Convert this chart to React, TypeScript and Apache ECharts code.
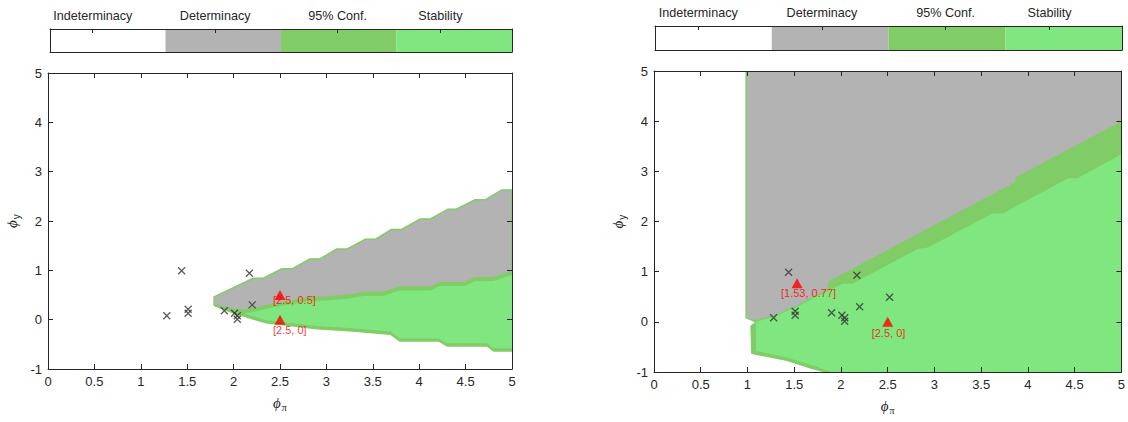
import React, { useEffect, useRef } from 'react';
import * as echarts from 'echarts';

// ---------- legend (colour bar) ----------
const legendNames = ['Indeterminacy', 'Determinacy', '95% Conf.', 'Stability'];
const legendColors = ['#ffffff', '#b3b3b3', '#80cc66', '#80e680'];
const legendTickPos = [0.37, 1.43, 2.49, 3.38];

// ---------- observed estimates (x markers) ----------
const observedLeft: number[][] = [
  [1.28, 0.08], [1.44, 0.99], [1.51, 0.21], [1.51, 0.13], [1.9, 0.18],
  [2.01, 0.13], [2.04, 0.08], [2.04, 0.01], [2.17, 0.94], [2.2, 0.3],
];
const observedRight: number[][] = [
  [1.28, 0.08], [1.44, 0.99], [1.51, 0.21], [1.51, 0.13], [1.9, 0.18],
  [2.01, 0.13], [2.04, 0.08], [2.04, 0.01], [2.17, 0.93], [2.2, 0.3], [2.52, 0.49],
];

// ---------- policy rules (red triangles) ----------
const leftRuleValues: number[][] = [[2.5, 0.5], [2.5, 0]];
const leftRuleLabels = ['[2.5, 0.5]', '[2.5, 0]'];
const rightRuleValues: number[][] = [[1.53, 0.77], [2.5, 0]];
const rightRuleLabels = ['[1.53, 0.77]', '[2.5, 0]'];

// ---------- left panel regions ----------
const leftDet: number[][] = [
  [1.79, 0.46], [2.21, 0.84], [2.32, 0.84], [2.52, 1.03], [2.63, 1.03], [2.82, 1.23], [2.93, 1.23],
  [3.11, 1.43], [3.22, 1.43], [3.42, 1.63], [3.53, 1.63], [3.7, 1.83], [3.81, 1.83], [4.01, 2.04],
  [4.12, 2.04], [4.31, 2.24], [4.4, 2.24], [4.6, 2.43], [4.71, 2.43], [4.89, 2.63], [5.0, 2.63],
  [5.0, 0.97], [4.98, 0.97], [4.8, 0.85], [4.6, 0.85], [4.49, 0.75], [4.22, 0.75], [4.12, 0.66],
  [3.79, 0.66], [3.61, 0.55], [3.4, 0.55], [3.25, 0.5], [3.0, 0.46], [2.82, 0.45], [2.43, 0.32],
  [2.12, 0.19], [2.0, 0.21], [1.79, 0.3],
];
const leftConf: number[][] = [
  [1.79, 0.3], [2.0, 0.21], [2.12, 0.19], [2.43, 0.32], [2.82, 0.45], [3.0, 0.46], [3.25, 0.5],
  [3.4, 0.55], [3.61, 0.55], [3.79, 0.66], [4.12, 0.66], [4.22, 0.75], [4.49, 0.75], [4.6, 0.85],
  [4.8, 0.85], [4.98, 0.97], [5.0, 0.97],
  [5.0, -0.65], [4.8, -0.65], [4.73, -0.55], [4.3, -0.55], [4.21, -0.45], [3.79, -0.45], [3.69, -0.31],
  [3.25, -0.24], [2.9, -0.2], [2.35, -0.08], [2.21, 0.0], [2.0, 0.12], [1.79, 0.27],
];
const leftStab: number[][] = [
  [1.98, 0.16], [2.12, 0.12], [2.43, 0.25], [2.82, 0.38], [3.0, 0.39], [3.25, 0.43], [3.4, 0.48],
  [3.61, 0.48], [3.79, 0.59], [4.12, 0.59], [4.22, 0.68], [4.49, 0.68], [4.6, 0.78], [4.8, 0.78],
  [4.98, 0.9], [5.0, 0.9],
  [5.0, -0.58], [4.8, -0.58], [4.73, -0.48], [4.3, -0.48], [4.21, -0.38], [3.79, -0.38], [3.69, -0.24],
  [3.25, -0.17], [2.9, -0.13], [2.35, -0.01], [2.21, 0.07], [2.05, 0.15],
];

// ---------- right panel regions ----------
const rightConf: number[][] = [
  [0.978, 5], [5, 5], [5, -1], [1.8, -1], [1.67, -0.93], [1.42, -0.78], [1.04, -0.64],
  [1.03, -0.08], [1.08, -0.01], [0.978, 0.07],
];
const rightDet: number[][] = [
  [0.994, 5], [5, 5], [5, 4.0], [3.87, 2.88], [3.86, 2.78], [1.86, 0.8], [1.86, 0.66],
  [1.52, 0.32], [1.28, 0.13], [1.08, 0.03], [0.994, 0.08],
];
const rightStab: number[][] = [
  [1.09, 0.0], [1.28, 0.1], [1.52, 0.29], [1.86, 0.62], [2.02, 0.76], [2.12, 0.76], [2.82, 1.45],
  [2.93, 1.48], [3.62, 2.16], [3.73, 2.16], [4.43, 2.86], [4.53, 2.86], [5, 3.34], [5, -1],
  [1.9, -1], [1.7, -0.87], [1.4, -0.7], [1.09, -0.58],
];

const FONT = 'Liberation Sans, Arial, Helvetica, sans-serif';
const AX = '#262626';
const DARK_GREEN = '#80cc66';

// label placement (style, not data)
const leftLabelOffsets = [[-7, -6], [-7, 0]];
const rightLabelOffsets = [[-16, -1], [-16, 1]];

function polygonSeries(points: number[][], fill: string, axisIdx: number, z: number, stroke?: string, lineWidth?: number) {
  return {
    type: 'custom',
    xAxisIndex: axisIdx,
    yAxisIndex: axisIdx,
    clip: true,
    silent: true,
    z,
    data: points,
    renderItem: (params: any, api: any) => {
      if (params.dataIndex !== 0) return null;
      const pts = points.map((p) => api.coord(p));
      return {
        type: 'polygon',
        shape: { points: pts },
        style: { fill, stroke: stroke || 'none', lineWidth: lineWidth || 0 },
      };
    },
  };
}

function colorbarSeries(axisIdx: number) {
  return {
    type: 'custom',
    xAxisIndex: axisIdx,
    yAxisIndex: axisIdx,
    silent: true,
    z: 2,
    data: legendNames.map((_, i) => [i, 0]),
    renderItem: (params: any, api: any) => {
      const i = api.value(0);
      const p0 = api.coord([i, 0]);
      const p1 = api.coord([i + 1, 1]);
      return {
        type: 'rect',
        shape: { x: p0[0], y: p1[1], width: p1[0] - p0[0], height: p0[1] - p1[1] },
        style: { fill: legendColors[i] },
      };
    },
  };
}

function markerSeries(points: number[][], axisIdx: number) {
  return {
    type: 'scatter',
    xAxisIndex: axisIdx,
    yAxisIndex: axisIdx,
    silent: true,
    z: 6,
    symbol: 'path://M0,0L10,10M10,0L0,10',
    symbolSize: 7,
    itemStyle: { color: 'rgba(0,0,0,0)', borderColor: '#333333', borderWidth: 1.3 },
    data: points,
  };
}

function ruleSeries(values: number[][], labels: string[], offsets: number[][], axisIdx: number) {
  return {
    type: 'scatter',
    xAxisIndex: axisIdx,
    yAxisIndex: axisIdx,
    silent: true,
    z: 7,
    symbol: 'triangle',
    symbolSize: [11, 10],
    itemStyle: { color: '#ff0000' },
    data: values.map((v, i) => ({
      value: v,
      name: labels[i],
      label: {
        show: true,
        formatter: labels[i],
        position: 'bottom',
        distance: 0,
        align: 'left',
        offset: offsets[i],
        color: '#ff0000',
        fontSize: 11,
        fontFamily: FONT,
      },
    })),
  };
}

function cbXAxes(grid: number) {
  return [
    {
      gridIndex: grid, type: 'value', min: 0, max: 4, position: 'top', z: 10,
      axisLine: { show: true, onZero: false, lineStyle: { color: AX, width: 1 } },
      axisTick: { show: true, inside: true, length: 4, customValues: legendTickPos, lineStyle: { color: AX } },
      axisLabel: {
        show: true, customValues: legendTickPos, margin: 7, color: AX, fontSize: 12.6, fontFamily: FONT,
        formatter: (v: number) => {
          const idx = legendTickPos.findIndex((t) => Math.abs(t - v) < 1e-6);
          return idx >= 0 ? legendNames[idx] : '';
        },
      },
      splitLine: { show: false },
    },
    {
      gridIndex: grid, type: 'value', min: 0, max: 4, position: 'bottom', z: 10,
      axisLine: { show: true, onZero: false, lineStyle: { color: AX, width: 1 } },
      axisTick: { show: false }, axisLabel: { show: false }, splitLine: { show: false },
    },
  ];
}
function cbYAxes(grid: number) {
  return ['left', 'right'].map((pos) => ({
    gridIndex: grid, type: 'value', min: 0, max: 1, position: pos, z: 10,
    axisLine: { show: true, onZero: false, lineStyle: { color: AX, width: 1 } },
    axisTick: { show: false }, axisLabel: { show: false }, splitLine: { show: false },
  }));
}

const richName = {
  a: { fontFamily: 'Liberation Serif, DejaVu Serif, serif', fontStyle: 'italic', fontSize: 15, color: AX },
  b: { fontFamily: 'Liberation Serif, DejaVu Serif, serif', fontSize: 10, color: AX, padding: [9, 0, 0, 1] },
};
const richNameY = {
  a: { fontFamily: 'Liberation Serif, DejaVu Serif, serif', fontStyle: 'italic', fontSize: 15, color: AX },
  b: { fontFamily: FONT, fontSize: 10, color: AX, padding: [9, 0, 0, 1] },
};

function plotXAxes(grid: number) {
  return [
    {
      gridIndex: grid, type: 'value', min: 0, max: 5, interval: 0.5, position: 'bottom', z: 10,
      axisLine: { show: true, onZero: false, lineStyle: { color: AX, width: 1 } },
      axisTick: { show: true, inside: true, length: 5, lineStyle: { color: AX } },
      axisLabel: { show: true, margin: 6, color: AX, fontSize: 13, fontFamily: FONT },
      splitLine: { show: false },
      name: '{a|ϕ}{b|π}', nameLocation: 'middle', nameGap: 24,
      nameTextStyle: { rich: richName },
    },
    {
      gridIndex: grid, type: 'value', min: 0, max: 5, interval: 0.5, position: 'top', z: 10,
      axisLine: { show: true, onZero: false, lineStyle: { color: AX, width: 1 } },
      axisTick: { show: true, inside: true, length: 5, lineStyle: { color: AX } },
      axisLabel: { show: false }, splitLine: { show: false },
    },
  ];
}
function plotYAxes(grid: number) {
  return [
    {
      gridIndex: grid, type: 'value', min: -1, max: 5, interval: 1, position: 'left', z: 10,
      axisLine: { show: true, onZero: false, lineStyle: { color: AX, width: 1 } },
      axisTick: { show: true, inside: true, length: 5, lineStyle: { color: AX } },
      axisLabel: { show: true, margin: 6, color: AX, fontSize: 13, fontFamily: FONT },
      splitLine: { show: false },
      name: '{a|ϕ}{b|y}', nameLocation: 'middle', nameGap: 27,
      nameTextStyle: { rich: richNameY },
    },
    {
      gridIndex: grid, type: 'value', min: -1, max: 5, interval: 1, position: 'right', z: 10,
      axisLine: { show: true, onZero: false, lineStyle: { color: AX, width: 1 } },
      axisTick: { show: true, inside: true, length: 5, lineStyle: { color: AX } },
      axisLabel: { show: false }, splitLine: { show: false },
    },
  ];
}

function buildOption() {
  return {
    animation: false,
    backgroundColor: '#ffffff',
    textStyle: { fontFamily: FONT },
    grid: [
      { left: 50, top: 29, width: 462, height: 23 },
      { left: 655, top: 26, width: 467, height: 24 },
      { left: 48, top: 73, width: 464, height: 296 },
      { left: 654, top: 71, width: 468, height: 301 },
    ],
    xAxis: [...cbXAxes(0), ...cbXAxes(1), ...plotXAxes(2), ...plotXAxes(3)],
    yAxis: [...cbYAxes(0), ...cbYAxes(1), ...plotYAxes(2), ...plotYAxes(3)],
    series: [
      colorbarSeries(0),
      colorbarSeries(2),
      // left panel (axes 4)
      polygonSeries(leftConf, DARK_GREEN, 4, 2),
      polygonSeries(leftStab, '#80e680', 4, 3),
      polygonSeries(leftDet, '#b3b3b3', 4, 4, DARK_GREEN, 1.5),
      markerSeries(observedLeft, 4),
      ruleSeries(leftRuleValues, leftRuleLabels, leftLabelOffsets, 4),
      // right panel (axes 6)
      polygonSeries(rightConf, DARK_GREEN, 6, 2),
      polygonSeries(rightDet, '#b3b3b3', 6, 3),
      polygonSeries(rightStab, '#80e680', 6, 4),
      markerSeries(observedRight, 6),
      ruleSeries(rightRuleValues, rightRuleLabels, rightLabelOffsets, 6),
    ],
  };
}

export default function App() {
  const ref = useRef<HTMLDivElement>(null);
  useEffect(() => {
    const chart = echarts.init(ref.current!, undefined, { renderer: 'svg' });
    chart.setOption(buildOption() as any);
    return () => chart.dispose();
  }, []);
  return (
    <div
      ref={ref}
      style={{ position: 'absolute', left: 0, top: 0, width: 1128, height: 422, background: '#ffffff' }}
    />
  );
}
